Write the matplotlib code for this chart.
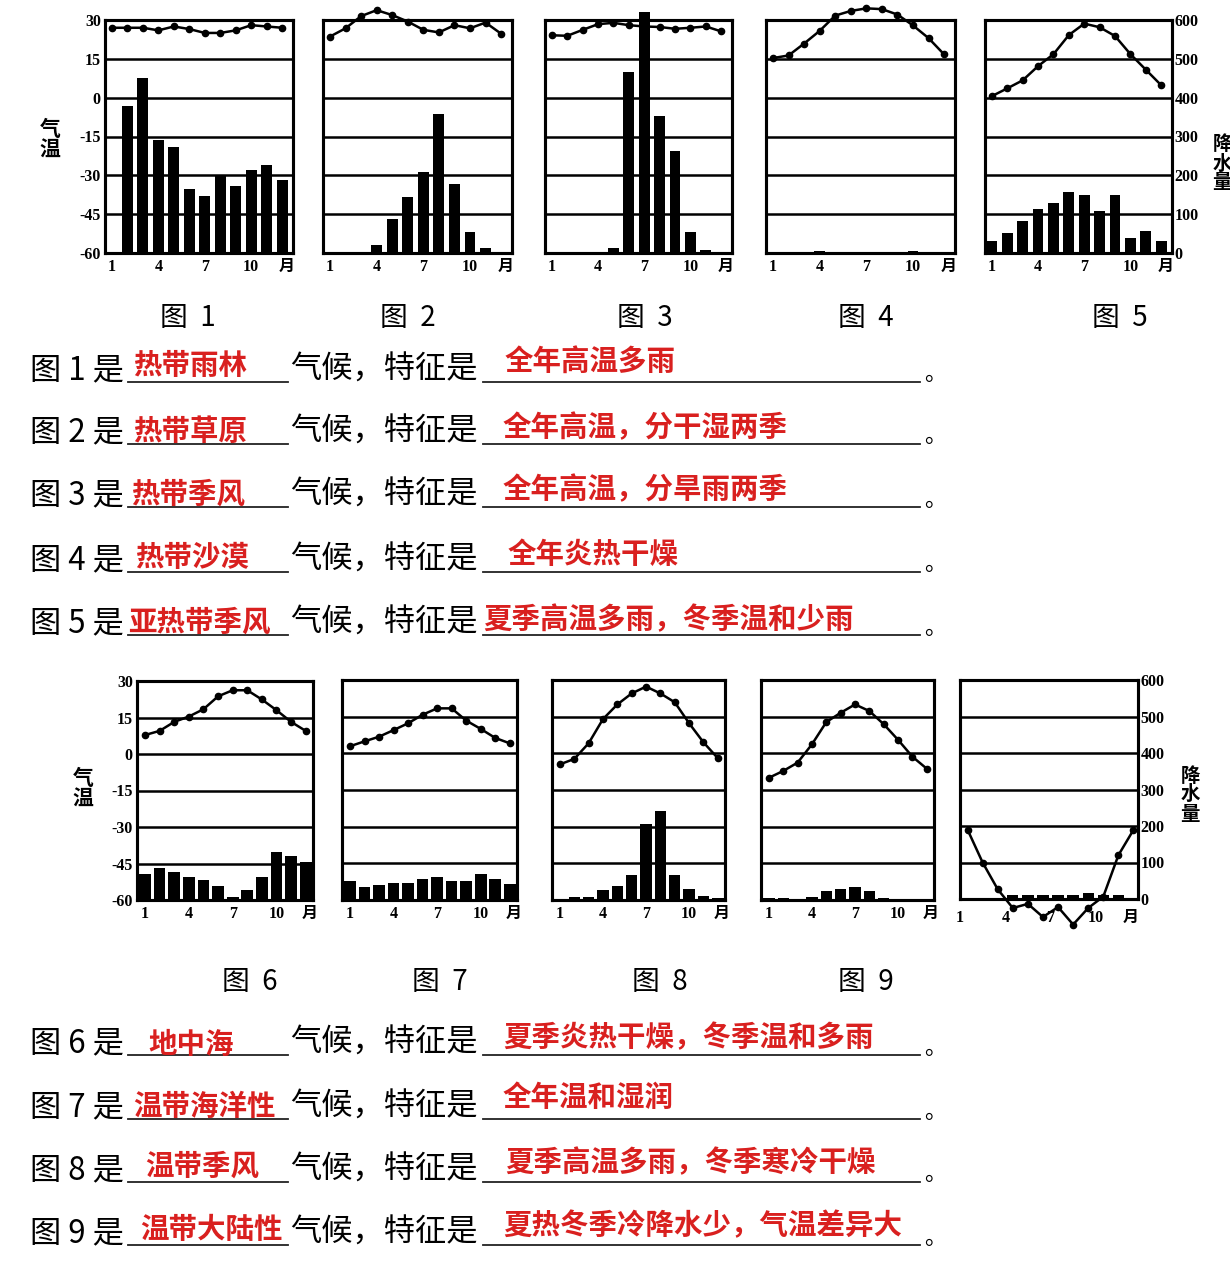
import matplotlib
matplotlib.use("Agg")
import matplotlib.pyplot as plt
from matplotlib.lines import Line2D

W, H = 1230, 1280
months = list(range(1, 13))

# monthly mean temperature (deg C) and precipitation (mm)
temp1 = [27, 27, 27, 26, 27.5, 26.5, 25, 25, 26, 28, 27.5, 27]
rain1 = [0, 378, 450, 290, 272, 166, 146, 200, 173, 213, 227, 187]
temp2 = [23.6, 26.8, 31.5, 33.8, 31.9, 29.4, 26.2, 25.2, 28, 26.8, 29, 24.7]
rain2 = [3, 0, 3, 20, 87, 145, 208, 358, 178, 55, 13, 0]
temp3 = [24.1, 23.9, 26.2, 28.4, 28.9, 28, 27.5, 27.3, 26.6, 27, 27.5, 25.6]
rain3 = [0, 0, 0, 0, 13, 466, 620, 352, 263, 55, 8, 0]
temp4 = [15.3, 16.3, 20.9, 25.8, 31.7, 33.5, 34.5, 34.2, 32.1, 27.9, 23, 16.7]
rain4 = [0, 0, 0, 5, 0, 0, 0, 0, 0, 5, 0, 0]
temp5 = [0.6, 3.6, 6.7, 12.2, 16.8, 24.2, 28.6, 27.2, 23.8, 16.8, 10.8, 4.8]
rain5 = [30, 51, 83, 113, 128, 158, 150, 109, 150, 38, 56, 32]

temp6 = [7.8, 9.5, 13.2, 15.4, 18.4, 23.7, 26.2, 26.2, 22.4, 18, 13.2, 9.5]
rain6 = [71, 88, 77, 63, 54, 37, 7, 28, 63, 132, 120, 104]
temp7 = [2.9, 4.9, 6.8, 9.5, 12.3, 15.8, 18.4, 18.4, 13.4, 10, 6.3, 4.1]
rain7 = [53, 36, 41, 47, 47, 58, 64, 53, 53, 70, 58, 45]
temp8 = [-4.5, -2.3, 4.1, 14, 20, 24.5, 27.3, 24.5, 20.9, 12.3, 4.5, -2]
rain8 = [2, 9, 7, 27, 39, 68, 206, 244, 68, 31, 11, 6]
temp9 = [-10, -7.2, -3.8, 3.7, 12.8, 16.6, 20, 17.3, 11.9, 5.5, -1.4, -6.3]
rain9 = [5, 5, 2, 9, 25, 30, 35, 25, 5, 2, 2, 2]
temp10 = [-31.5, -45, -56, -63.7, -62, -67.4, -63.3, -70.5, -63.7, -59, -42, -31.6]
rain10 = [0, 0, 0, 10, 10, 10, 10, 10, 17, 10, 10, 0]

temp_ticks = [30, 15, 0, -15, -30, -45, -60]
rain_ticks = [0, 100, 200, 300, 400, 500, 600]
month_labels = ['1', '4', '7', '10', '月']

fig_names_top = ['图  1', '图  2', '图  3', '图  4', '图  5']
fig_names_bot = ['图  6', '图  7', '图  8', '图  9']
climates = ['热带雨林', '热带草原', '热带季风', '热带沙漠', '亚热带季风',
            '地中海', '温带海洋性', '温带季风', '温带大陆性']
features = ['全年高温多雨', '全年高温，分干湿两季', '全年高温，分旱雨两季',
            '全年炎热干燥', '夏季高温多雨，冬季温和少雨',
            '夏季炎热干燥，冬季温和多雨', '全年温和湿润',
            '夏季高温多雨，冬季寒冷干燥', '夏热冬季冷降水少，气温差异大']

CJK = 'Noto Sans CJK SC'
NUM = ['Liberation Serif', 'Noto Sans CJK SC']
RED = '#d9201f'

fig = plt.figure(figsize=(W / 100, H / 100), dpi=100)


def place(l, t, r, b):
    return fig.add_axes([l / W, 1 - b / H, (r - l) / W, (b - t) / H])


def panel(box, temps, rains, left=False, right=False, xlim=(0.55, 12.7),
          width=0.7, mshift=0.0, pad=4):
    axT = place(*box)
    axP = axT.twinx()
    axT.set_zorder(axP.get_zorder() + 1)
    axT.patch.set_visible(False)
    axP.bar(months, rains, width=width, color='black', clip_on=False)
    axP.set_ylim(0, 600)
    axT.set_ylim(-60, 30)
    axT.set_xlim(*xlim)
    for y in temp_ticks[1:-1]:
        axT.axhline(y, color='black', lw=1.8, zorder=0)
    axT.plot(months, temps, '-o', color='black', lw=1.8, ms=4.5, clip_on=False)
    for ax in (axT, axP):
        for s in ax.spines.values():
            s.set_linewidth(2.2)
        ax.tick_params(length=0)
    axT.set_yticks(temp_ticks)
    axT.set_yticklabels([str(v) for v in temp_ticks] if left else [],
                        family=NUM, weight='bold', fontsize=11.5)
    axP.set_yticks(rain_ticks)
    axP.set_yticklabels([str(v) for v in rain_ticks] if right else [],
                        family=NUM, weight='bold', fontsize=11.5)
    axT.tick_params(axis='y', pad=3)
    axP.tick_params(axis='y', pad=2)
    axT.set_xticks([p + mshift for p in [1, 4, 7, 10, 12.3]])
    axT.set_xticklabels(month_labels, family=NUM, weight='bold', fontsize=11.5)
    axT.tick_params(axis='x', pad=pad)
    return axT


def txt(x, y, s, **kw):
    fig.text(x / W, 1 - y / H, s, va='center', **kw)


def hline(x0, x1, y):
    fig.add_artist(Line2D([x0 / W, x1 / W], [1 - y / H] * 2,
                          transform=fig.transFigure, color='#222222', lw=1.3))


# top row
top_boxes = [(105, 20, 293, 253), (323, 20, 512, 253), (545, 20, 732, 253),
             (766, 20, 955, 253), (985, 20, 1172, 253)]
top_data = [(temp1, rain1), (temp2, rain2), (temp3, rain3), (temp4, rain4), (temp5, rain5)]
for i, (box, (t, r)) in enumerate(zip(top_boxes, top_data)):
    panel(box, t, r, left=(i == 0), right=(i == 4))

# bottom row
bot_boxes = [(137, 681, 313, 900), (342, 680, 517, 900), (552, 680, 725, 900),
             (761, 680, 934, 900), (960, 680, 1138, 899)]
bot_data = [(temp6, rain6), (temp7, rain7), (temp8, rain8), (temp9, rain9), (temp10, rain10)]
for i, (box, (t, r)) in enumerate(zip(bot_boxes, bot_data)):
    if i == 4:
        panel(box, t, r, right=True, xlim=(0.5, 12.3), width=0.75, mshift=-0.5, pad=8)
    else:
        panel(box, t, r, left=(i == 0), xlim=(0.45, 12.5), width=0.8)

# axis titles
txt(50, 140, '气\n温', family=CJK, weight='bold', fontsize=15, ha='center', linespacing=1.0)
txt(1222, 164, '降\n水\n量', family=CJK, weight='bold', fontsize=14, ha='center', linespacing=1.0)
txt(83, 789, '气\n温', family=CJK, weight='bold', fontsize=15, ha='center', linespacing=1.0)
txt(1190, 795, '降\n水\n量', family=CJK, weight='bold', fontsize=14, ha='center', linespacing=1.0)

# figure captions
for x, s in zip([188, 408, 645, 866, 1120], fig_names_top):
    txt(x, 318, s, family=CJK, fontsize=20, ha='center')
for x, s in zip([250, 440, 660, 866], fig_names_bot):
    txt(x, 982, s, family=CJK, fontsize=20, ha='center')

# question lines with answers
line_y = [370, 432, 495, 560, 623, 1043, 1107, 1170, 1233]
ans_x = [133, 133, 131, 135, 128, 148, 133, 145, 140]
ans_y = [366, 432, 495, 558, 623, 1045, 1107, 1167, 1230]
feat_x = [505, 503, 503, 508, 483, 503, 503, 505, 503]
feat_y = [362, 428, 490, 555, 620, 1038, 1098, 1163, 1226]
for k in range(9):
    y = line_y[k]
    txt(30, y, '图 %d 是' % (k + 1), family=CJK, fontsize=22.5, ha='left')
    hline(128, 288, y + 12)
    txt(290, y, '气候，特征是', family=CJK, fontsize=22.5, ha='left')
    hline(483, 920, y + 12)
    txt(924, y + 4, '。', family=CJK, fontsize=16, ha='left')
    txt(ans_x[k], ans_y[k], climates[k], family=CJK, weight='bold', fontsize=20.5,
        color=RED, ha='left')
    txt(feat_x[k], feat_y[k], features[k], family=CJK, weight='bold', fontsize=20.5,
        color=RED, ha='left')

fig.savefig('out.png', dpi=100)
